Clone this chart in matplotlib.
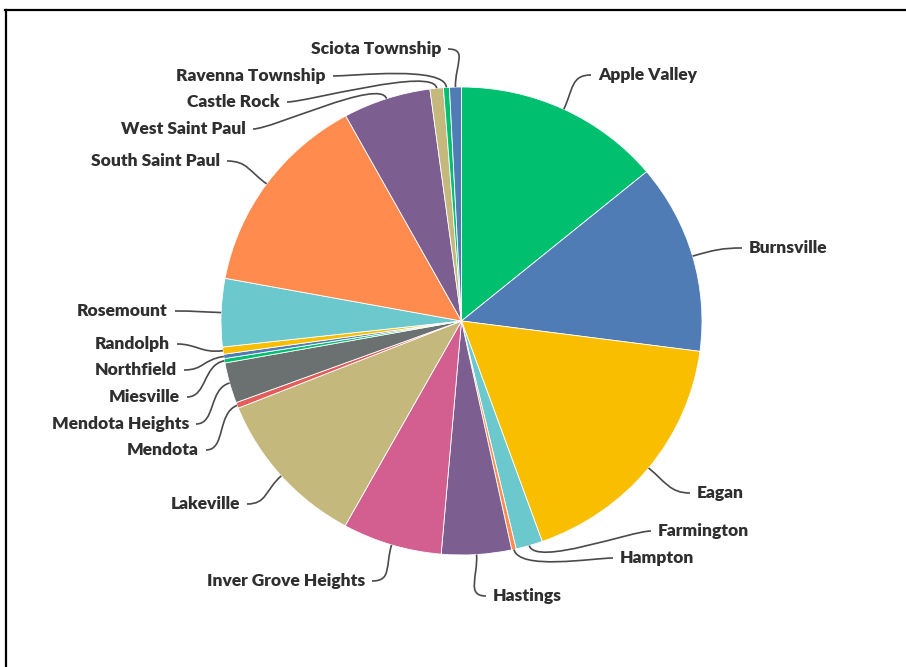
import numpy as np
import matplotlib
matplotlib.use("Agg")
import matplotlib.pyplot as plt
from matplotlib.path import Path
from matplotlib.patches import PathPatch
from matplotlib.lines import Line2D

# ---------------- data ----------------
cities = ["Apple Valley", "Burnsville", "Eagan", "Farmington", "Hampton",
          "Hastings", "Inver Grove Heights", "Lakeville", "Mendota",
          "Mendota Heights", "Miesville", "Northfield", "Randolph",
          "Rosemount", "South Saint Paul", "West Saint Paul", "Castle Rock",
          "Ravenna Township", "Sciota Township"]
shares = [14.0, 13.1, 17.5, 1.8, 0.3,
          4.7, 6.7, 10.9, 0.4,
          2.8, 0.3, 0.3, 0.5,
          4.7, 14.1, 5.9, 0.9,
          0.4, 0.8]

GREEN, BLUE, YELLOW, CYAN, ORANGE = "#00BF6F", "#507CB6", "#F9BE00", "#6BC8CD", "#FF8B4F"
PURPLE, PINK, TAN, RED, GRAY = "#7D5E90", "#D25F90", "#C5B87C", "#E35D5D", "#6B7071"
slice_colors = [GREEN, BLUE, YELLOW, CYAN, ORANGE,
                PURPLE, PINK, TAN, RED,
                GRAY, GREEN, BLUE, YELLOW,
                CYAN, ORANGE, PURPLE, TAN,
                GREEN, BLUE]

# ---------------- layout ----------------
W, H = 906, 667
cx, cy = 461.5, 321.0      # pie centre (pixels, y down)
rx, ry = 240.5, 234.0      # pie radii (pixels)

# label anchor positions (pixels) and alignment
label_xy = {
    "Apple Valley": (598, 75, "left"),
    "Burnsville": (749, 248, "left"),
    "Eagan": (697, 493, "left"),
    "Farmington": (658, 531, "left"),
    "Hampton": (620, 558, "left"),
    "Hastings": (493, 596, "left"),
    "Inver Grove Heights": (365, 581, "right"),
    "Lakeville": (240, 504, "right"),
    "Mendota": (199, 450, "right"),
    "Mendota Heights": (189, 424, "right"),
    "Miesville": (180, 397, "right"),
    "Northfield": (177, 370, "right"),
    "Randolph": (170, 344, "right"),
    "Rosemount": (168, 311, "right"),
    "South Saint Paul": (220, 161, "right"),
    "West Saint Paul": (246, 129, "right"),
    "Castle Rock": (280, 102, "right"),
    "Ravenna Township": (326, 76, "right"),
    "Sciota Township": (441, 49, "right"),
}

fig = plt.figure(figsize=(W / 100, H / 100), dpi=100)
fig.patch.set_facecolor("white")

# pie axes sized to the (slightly elliptical) pie
pax = fig.add_axes([(cx - rx) / W, (H - (cy + ry)) / H, 2 * rx / W, 2 * ry / H])
pax.pie(shares, colors=slice_colors, startangle=90, counterclock=False, radius=1,
        wedgeprops=dict(edgecolor="white", linewidth=0.6))
pax.set_aspect("auto")
pax.set_xlim(-1, 1)
pax.set_ylim(-1, 1)
pax.axis("off")

# overlay axes in pixel coordinates
ax = fig.add_axes([0, 0, 1, 1])
ax.set_xlim(0, W)
ax.set_ylim(H, 0)
ax.axis("off")
ax.patch.set_alpha(0)

total = float(sum(shares))
cum = np.cumsum(shares)
for name, v, c in zip(cities, shares, cum):
    theta = np.deg2rad(360.0 * (c - v / 2.0) / total)
    sx, sy = np.sin(theta), -np.cos(theta)
    p0 = (cx + rx * sx, cy + ry * sy)
    p1 = (cx + (rx + 22) * sx, cy + (ry + 22) * sy)
    tx, ty, ha = label_xy[name]
    if ha == "left":
        p3 = (tx - 7, ty)
        p2 = (tx - 27, ty)
    else:
        p3 = (tx + 7, ty)
        p2 = (tx + 27, ty)
    path = Path([p0, p1, p2, p3], [Path.MOVETO, Path.CURVE4, Path.CURVE4, Path.CURVE4])
    ax.add_patch(PathPatch(path, facecolor="none", edgecolor="#4a4a4a", lw=1.2))
    ax.text(tx, ty, name, ha=ha, va="center", fontsize=12.5, fontweight="heavy",
            family=["Lato", "DejaVu Sans"], color="#2f2f2f")

# frame lines (top and left)
fig.add_artist(Line2D([5 / W, 1], [1 - 9.5 / H, 1 - 9.5 / H], color="black", lw=1.6,
                      transform=fig.transFigure))
fig.add_artist(Line2D([5.5 / W, 5.5 / W], [0, 1 - 9.5 / H], color="black", lw=1.6,
                      transform=fig.transFigure))

fig.savefig("out.png", dpi=100, facecolor="white")
